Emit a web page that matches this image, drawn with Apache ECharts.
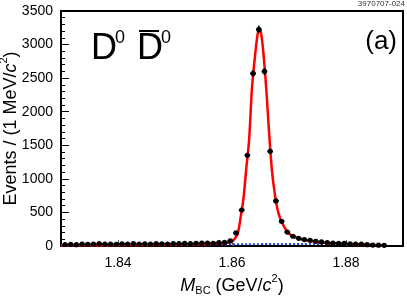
<!DOCTYPE html>
<html><head><meta charset="utf-8">
<script src="https://cdn.jsdelivr.net/npm/echarts@6/dist/echarts.min.js"></script>
<style>html,body{margin:0;padding:0;background:#fff}#c{width:407px;height:299px}</style>
</head><body><div id="c"></div>
<script>
// Data points: bin centers (GeV/c^2) and counts per 1 MeV
const binCenters = [1.8307,1.8317,1.8327,1.8337,1.8347,1.8357,1.8367,1.8377,1.8387,1.8397,
  1.8407,1.8417,1.8427,1.8437,1.8447,1.8457,1.8467,1.8477,1.8487,1.8497,
  1.8507,1.8517,1.8527,1.8537,1.8547,1.8557,1.8567,1.8577,1.8587,1.8597,
  1.8607,1.8617,1.8627,1.8637,1.8647,1.8657,1.8667,1.8677,1.8687,1.8697,
  1.8707,1.8717,1.8727,1.8737,1.8747,1.8757,1.8767,1.8777,1.8787,1.8797,
  1.8807,1.8817,1.8827,1.8837,1.8847,1.8857,1.8867];
const counts = [22,25,20,28,24,30,35,28,30,26,
  32,30,35,28,33,30,35,32,30,36,
  34,38,35,40,42,45,40,50,55,75,
  195,536,1350,2570,3225,2600,1410,672,368,208,
  145,115,95,85,70,60,52,45,40,38,
  32,30,28,20,14,12,10];
// Total fit curve (red)
const fitX = [1.8300,1.8350,1.8400,1.8450,1.8500,1.8540,1.8570,1.8590,1.8600,1.8605,1.8610,1.8615,1.8620,1.8625,1.8630,1.8635,1.8640,1.8645,1.8648,1.8651,1.8655,1.8660,1.8665,1.8670,1.8675,1.8680,1.8685,1.8690,1.8697,1.8705,1.8715,1.8725,1.8740,1.8755,1.8770,1.8785,1.8800,1.8815,1.8830,1.8845,1.8860,1.8867];
const fitY = [10,12,14,16,19,24,32,45,70,110,180,420,700,1150,1580,2350,2800,3160,3230,3170,2880,2350,1700,1130,780,540,400,310,210,155,118,92,70,52,42,37,32,28,24,17,8,0];
// Background (ARGUS, blue dashed)
const bgX = [1.8300,1.8400,1.8500,1.8550,1.8600,1.8650,1.8700,1.8750,1.8780,1.8810,1.8830,1.8850,1.8860,1.8867];
const bgY = [9,13,18,21,25,28,30,31,30,27,22,14,7,0];
const xTicks = [1.84,1.86,1.88];

const FONT = '"Liberation Sans", Arial, Helvetica, sans-serif';
const zip = (a,b) => a.map((v,i)=>[v,b[i]]);
const chart = echarts.init(document.getElementById('c'), null, {renderer:'canvas'});
chart.setOption({
  animation:false,
  backgroundColor:'#fff',
  grid:{left:61,right:4,top:11,bottom:53,show:true,borderColor:'#000',borderWidth:2,backgroundColor:'transparent',
    containLabel:false,outerBoundsMode:'none'},
  xAxis:{type:'value',min:1.83,max:1.89,
    axisLine:{show:true,lineStyle:{color:'#000',width:2}},
    axisTick:{show:true,inside:true,length:6,customValues:xTicks,lineStyle:{color:'#555',width:1}},
    axisLabel:{show:true,customValues:xTicks,formatter:v=>v.toFixed(2),color:'#000',fontSize:14,fontFamily:FONT,margin:10},
    splitLine:{show:false},
    name:'{it|M}{sub|BC}{n| (GeV/}{it|c}{sup|2}{n|)}',
    nameLocation:'middle',nameGap:27,nameMoveOverlap:false,
    nameTextStyle:{fontFamily:FONT,color:'#000',rich:{
      it:{fontSize:18,fontStyle:'italic',fontFamily:FONT,lineHeight:22,verticalAlign:'bottom'},
      n:{fontSize:18,fontFamily:FONT,lineHeight:22,verticalAlign:'bottom'},
      sub:{fontSize:11,fontFamily:FONT,lineHeight:11,verticalAlign:'bottom',padding:[0,0,-1,0]},
      sup:{fontSize:11,fontFamily:FONT,lineHeight:22,verticalAlign:'top'}
    }}
  },
  yAxis:{type:'value',min:0,max:3500,interval:500,
    axisLine:{show:true,lineStyle:{color:'#000',width:2}},
    axisTick:{show:true,inside:true,length:8,lineStyle:{color:'#000',width:1}},
    minorTick:{show:true,splitNumber:5,length:4,lineStyle:{color:'#000',width:1}},
    axisLabel:{color:'#000',fontSize:14,fontFamily:FONT,margin:8,formatter:v=>String(v)},
    splitLine:{show:false},
    name:'{n|Events / (1 MeV/}{it|c}{sup|2}{n|)}',
    nameLocation:'middle',nameGap:41,nameRotate:90,nameMoveOverlap:false,
    nameTextStyle:{fontFamily:FONT,color:'#000',rich:{
      it:{fontSize:18,fontStyle:'italic',fontFamily:FONT,lineHeight:22,verticalAlign:'bottom'},
      n:{fontSize:18,fontFamily:FONT,lineHeight:22,verticalAlign:'bottom'},
      sup:{fontSize:11,fontFamily:FONT,lineHeight:22,verticalAlign:'top'}
    }}
  },
  series:[
    {type:'line',data:zip(bgX,bgY),showSymbol:false,smooth:true,
      lineStyle:{color:'#2244ee',width:2,type:[2,2]},z:2},
    {type:'line',data:zip(fitX,fitY),showSymbol:false,smooth:0.3,
      lineStyle:{color:'#ff0000',width:2.5},z:3},
    {type:'custom',data:zip(binCenters,counts),z:4,
      renderItem:(params,api)=>{
        const x=api.value(0), y=api.value(1);
        const c=api.coord([x,y]);
        const l=api.coord([x-0.0005,y]), r=api.coord([x+0.0005,y]);
        const e=Math.sqrt(y);
        const t=api.coord([x,y+e]), b=api.coord([x,Math.max(0,y-e)]);
        return {type:'group',children:[
          {type:'line',shape:{x1:l[0],y1:c[1],x2:r[0],y2:c[1]},style:{stroke:'#000',lineWidth:1.6}},
          {type:'line',shape:{x1:c[0],y1:t[1],x2:c[0],y2:b[1]},style:{stroke:'#000',lineWidth:1.6}},
          {type:'circle',shape:{cx:c[0],cy:c[1],r:2.6},style:{fill:'#000'}}
        ]};
      }}
  ],
  graphic:[
    {type:'text',left:91,top:31,z:10,style:{text:'D',font:'36px '+FONT,fill:'#000'}},
    {type:'text',left:115,top:29,z:10,style:{text:'0',font:'18px '+FONT,fill:'#000'}},
    {type:'text',left:137,top:31,z:10,style:{text:'D',font:'36px '+FONT,fill:'#000'}},
    {type:'text',left:161,top:29,z:10,style:{text:'0',font:'18px '+FONT,fill:'#000'}},
    {type:'rect',left:139,top:30,z:10,shape:{x:0,y:0,width:20,height:2},style:{fill:'#000'}},
    {type:'text',right:10,top:29,z:10,style:{text:'(a)',font:'26px '+FONT,fill:'#000'}},
    {type:'text',right:2,top:0,z:10,style:{text:'3970707-024',font:'8px '+FONT,fill:'#333'}}
  ]
});
</script></body></html>
